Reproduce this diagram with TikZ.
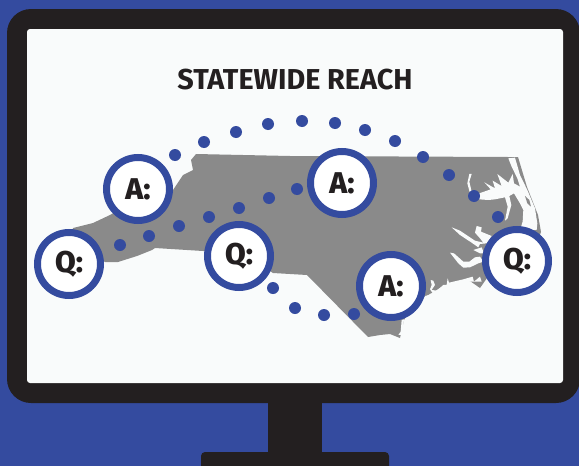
\documentclass[tikz,border=0pt]{standalone}
\usepackage{fontspec}
\setmainfont{Fira Sans}
\newfontfamily\heavyfont{Fira Sans ExtraBold}
\definecolor{bluebg}{HTML}{344B9F}
\definecolor{dark}{HTML}{231F20}
\definecolor{mapgrey}{HTML}{8A8A8A}
\definecolor{paper}{HTML}{F9FBFB}
\tikzset{
  badge/.style={circle,draw=bluebg,line width=7pt,fill=white,minimum size=63pt,inner sep=0pt,text=dark,font=\fontsize{30}{30}\selectfont\heavyfont},
  dotmark/.style={circle,fill=bluebg,minimum size=12pt,inner sep=0pt},
  water/.style={fill=paper,draw=none},
  titletext/.style={text=dark,font=\fontsize{28.8}{29}\selectfont\bfseries}
}
\begin{document}
\begin{tikzpicture}[x=1pt,y=-1pt]
\useasboundingbox (0,0) rectangle (579,466);
\fill[bluebg] (0,0) rectangle (579,466);
% stand
\fill[dark] (268,400) rectangle (322,455);
\fill[dark,rounded corners=4pt] (201,452) rectangle (389,470);
% monitor
\fill[dark,rounded corners=24pt] (7,9) rectangle (580,403);
\fill[paper,rounded corners=3pt] (27,29) rectangle (563,383);
\node[titletext] (title) at (295,80) {STATEWIDE REACH};
% state
\fill[mapgrey] (196,154) -- (290,156) -- (508,157) -- (518,157) -- (527,187) -- (538,215) -- (541,232)
 -- (530,262) -- (500,270) -- (487,278) -- (480,288) -- (470,281) -- (450,283) -- (440,288) -- (423,298)
 -- (410,310) -- (404,320) -- (400,338) -- (390,334) -- (380,335) -- (368,337) -- (307,275) -- (290,274)
 -- (273,273) -- (240,252) -- (203,251) -- (155,248) -- (152,250) -- (137,256) -- (118,262) -- (105,262)
 -- (70,240) -- (73,228) -- (93,223) -- (110,215) -- (135,200) -- (173,190) -- (183,175) -- (193,170)
 -- (191,160) -- cycle;
% northern sounds
\begin{scope}[shift={(440,150)},x=0.3333pt,y=-0.3333pt]
\fill[water] (205,25) -- (225,23) -- (240,75) -- (262,120) -- (285,175) -- (292,220) -- (290,240) -- (240,240)
 -- (248,215) -- (250,180) -- (240,160) -- (222,130) -- (208,138) -- (214,165) -- (203,205) -- (195,212) -- (203,170)
 -- (195,142) -- (165,148) -- (145,150) -- (118,148) -- (112,140) -- (118,130) -- (152,118) -- (133,97) -- (165,115)
 -- (158,92) -- (185,108) -- (172,72) -- (205,98) -- (218,72) -- (222,100) -- (240,110) -- (232,85) -- (215,50) -- cycle;
\fill[mapgrey] (255,138) -- (268,150) -- (273,170) -- (262,160) -- cycle;
\fill[water] (88,72) -- (95,72) -- (88,95) -- (95,125) -- (90,130) -- (82,100) -- cycle;
\end{scope}
% southern sounds and coast
\begin{scope}[shift={(380,220)},x=0.3333pt,y=-0.3333pt]
\fill[water] (215,22) -- (240,32) -- (285,62) -- (310,68) -- (300,55) -- (285,38) -- (290,18) -- (305,22) -- (303,35)
 -- (335,48) -- (320,70) -- (300,72) -- (295,82) -- (275,68) -- (240,45) -- cycle;
\fill[water] (280,90) -- (305,82) -- (312,100) -- (300,100) -- cycle;
\fill[water] (210,98) -- (222,100) -- (250,125) -- (268,125) -- (285,112) -- (300,110) -- (310,125) -- (295,130)
 -- (270,142) -- (250,143) -- (235,130) -- cycle;
\fill[water] (152,180) -- (160,182) -- (165,195) -- (155,210) -- (170,212) -- (190,195) -- (200,195) -- (203,175) -- (207,188)
 -- (250,178) -- (278,170) -- (282,185) -- (300,170) -- (305,185) -- (270,185) -- (215,192) -- (180,208) -- (130,240) -- (135,228)
 -- (160,222) -- (150,208) -- (155,195) -- cycle;
\fill[water] (65,300) -- (72,298) -- (66,345) -- (55,345) -- (62,335) -- cycle;
\end{scope}
% dots
\foreach \i/\px/\py in {1/120/245,2/149/236,3/179/226,4/209/217,5/239/208,6/269/198,7/297/189,
 8/175/155,9/204/142,10/236/132,11/268/124,12/302/121,13/335/123,14/365/130,15/395/141,16/423/157,17/449/175,18/474/196,19/498/217,
 20/273/288,21/295/308,22/324/315,23/354/314}
  \node[dotmark] (d\i) at (\px,\py) {};
% badges
\node[badge] (q1) at (69,264) {Q:};
\node[badge] (a1) at (138,189) {A:};
\node[badge] (q2) at (239,256) {Q:};
\node[badge] (a2) at (342,183) {A:};
\node[badge] (a3) at (391,286) {A:};
\node[badge] (q3) at (517,261) {Q:};
\end{tikzpicture}
\end{document}
